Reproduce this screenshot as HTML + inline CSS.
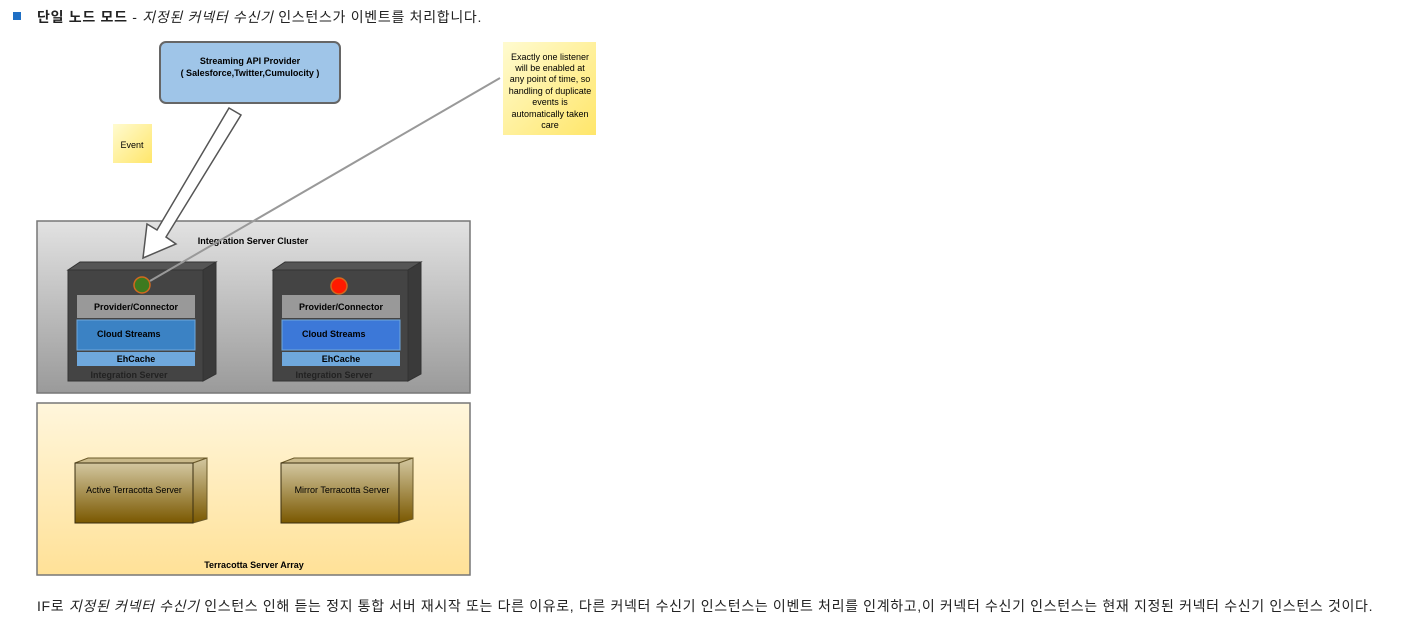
<!DOCTYPE html>
<html><head><meta charset="utf-8"><style>
body{margin:0;width:1405px;height:621px;background:#fff;overflow:hidden;font-family:"Liberation Sans","Noto Sans CJK KR",sans-serif;}
.t{position:absolute;font-size:14px;letter-spacing:0.65px;color:#222;white-space:nowrap}
</style></head><body>
<div style="position:absolute;left:13px;top:12px;width:8px;height:8px;background:#1f6fc4"></div>
<div class="t" style="left:37px;top:7px;letter-spacing:0.7px"><b>단일 노드 모드</b> - <i>지정된 커넥터 수신기</i> 인스턴스가 이벤트를 처리합니다.</div>
<svg width="1405" height="621" style="position:absolute;left:0;top:0" font-family="Liberation Sans, sans-serif">
<defs>
<linearGradient id="g1" x1="0" y1="0" x2="0" y2="1"><stop offset="0" stop-color="#e2e2e2"/><stop offset="1" stop-color="#9a9a9a"/></linearGradient>
<linearGradient id="g2" x1="0" y1="0" x2="0" y2="1"><stop offset="0" stop-color="#fff6dc"/><stop offset="1" stop-color="#ffe197"/></linearGradient>
<linearGradient id="g3" x1="0" y1="0" x2="0" y2="1"><stop offset="0" stop-color="#d3c7a0"/><stop offset="1" stop-color="#7a5800"/></linearGradient>
<linearGradient id="gn" x1="0" y1="0" x2="1" y2="1"><stop offset="0" stop-color="#fffbd0"/><stop offset="1" stop-color="#ffe66a"/></linearGradient>
</defs>
<rect x="160" y="42" width="180" height="61" rx="6" fill="#9fc5e8" stroke="#666" stroke-width="2"/>
<text x="250" y="64" font-size="9" font-weight="bold" text-anchor="middle">Streaming API Provider</text>
<text x="250" y="76" font-size="9" font-weight="bold" text-anchor="middle">( Salesforce,Twitter,Cumulocity )</text>
<rect x="113" y="124" width="39" height="39" fill="url(#gn)"/>
<text x="132" y="148" font-size="9" text-anchor="middle">Event</text>
<rect x="503" y="42" width="93" height="93" fill="url(#gn)"/>
<g font-size="9" text-anchor="middle"><text x="550" y="60">Exactly one listener</text><text x="550" y="71">will be enabled at</text><text x="550" y="82">any point of time, so</text><text x="550" y="94">handling of duplicate</text><text x="550" y="105">events is</text><text x="550" y="117">automatically taken</text><text x="550" y="128">care</text></g>
<rect x="37" y="221" width="433" height="172" fill="url(#g1)" stroke="#777" stroke-width="1.5"/>
<text x="253" y="244" font-size="9" font-weight="bold" text-anchor="middle">Integration Server Cluster</text>
<polygon points="229,108 241,115 166,237 176,244 143,258 147,224 157,230" fill="#fff" stroke="#555" stroke-width="1.5"/>
<g id="s">
<polygon points="68,270 80,262 216,262 203,270" fill="#555" stroke="#333"/>
<polygon points="203,270 216,262 216,374 203,381" fill="#3a3a3a" stroke="#333"/>
<rect x="68" y="270" width="135" height="111" fill="#444" stroke="#333"/>
<rect x="77" y="295" width="118" height="23" fill="#999"/>
<text x="136" y="310" font-size="9" font-weight="bold" text-anchor="middle">Provider/Connector</text>
<rect x="77" y="320" width="118" height="30" fill="#3b82c4" stroke="#6fa8dc"/>
<text x="97" y="337" font-size="9" font-weight="bold">Cloud Streams</text>
<rect x="77" y="352" width="118" height="14" fill="#6fa8dc"/>
<text x="136" y="362" font-size="9" font-weight="bold" text-anchor="middle">EhCache</text>
<text x="129" y="378" font-size="9" font-weight="bold" text-anchor="middle" fill="#222">Integration Server</text>
</g>
<circle cx="142" cy="285" r="8" fill="#3e7a1f" stroke="#d2691e" stroke-width="1.5"/>
<g transform="translate(205,0)"><use href="#s"/></g>
<rect x="282" y="320" width="118" height="30" fill="#3c78d8" stroke="#6fa8dc"/>
<text x="302" y="337" font-size="9" font-weight="bold">Cloud Streams</text>
<circle cx="339" cy="286" r="8" fill="#ff1a00" stroke="#d2691e" stroke-width="1.5"/>
<line x1="500" y1="78" x2="150" y2="281" stroke="#999" stroke-width="2"/>
<rect x="37" y="403" width="433" height="172" fill="url(#g2)" stroke="#777" stroke-width="1.5"/>
<text x="254" y="568" font-size="9" font-weight="bold" text-anchor="middle">Terracotta Server Array</text>
<g id="tc">
<polygon points="75,463 88,458 207,458 193,463" fill="#c9b98a" stroke="#6b5a2a"/>
<polygon points="193,463 207,458 207,519 193,523" fill="url(#g3)" stroke="#6b5a2a"/>
<rect x="75" y="463" width="118" height="60" fill="url(#g3)" stroke="#3a2e10"/>
</g>
<text x="134" y="493" font-size="9" text-anchor="middle">Active Terracotta Server</text>
<g transform="translate(206,0)"><use href="#tc"/></g>
<text x="342" y="493" font-size="9" text-anchor="middle">Mirror Terracotta Server</text>
</svg>
<div class="t" style="left:37px;top:596px">IF로 <i>지정된 커넥터 수신기</i> 인스턴스 인해 듣는 정지 통합 서버 재시작 또는 다른 이유로, 다른 커넥터 수신기 인스턴스는 이벤트 처리를 인계하고,이 커넥터 수신기 인스턴스는 현재 지정된 커넥터 수신기 인스턴스 것이다.</div>
</body></html>
